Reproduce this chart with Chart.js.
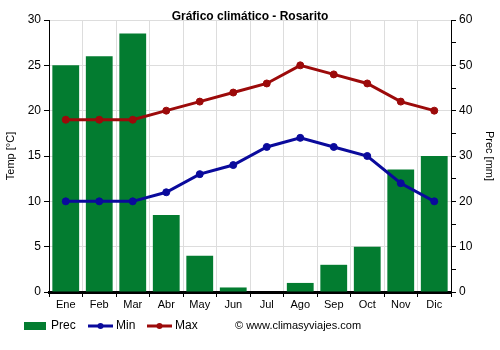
<!DOCTYPE html>
<html>
<head>
<meta charset="utf-8">
<script src="https://cdn.jsdelivr.net/npm/chart.js@4"></script>
<style>
  html, body { margin: 0; padding: 0; background: #fff; }
  #wrap { width: 500px; height: 350px; }
</style>
</head>
<body>
<div id="wrap"><canvas id="myChart" width="500" height="350"></canvas></div>
<script>
const months = ['Ene', 'Feb', 'Mar', 'Abr', 'May', 'Jun', 'Jul', 'Ago', 'Sep', 'Oct', 'Nov', 'Dic'];
const prec = [50, 52, 57, 17, 8, 1, 0, 2, 6, 10, 27, 30];
const tempMin = [10, 10, 10, 11, 13, 14, 16, 17, 16, 15, 12, 10];
const tempMax = [19, 19, 19, 20, 21, 22, 23, 25, 24, 23, 21, 20];

const font = 'Liberation Sans, Arial, sans-serif';
const green = '#037c30';
const blue = '#0a0a9c';
const red = '#9c0a0a';

// title, legend row and copyright drawn by hand
const decorations = {
    id: 'decorations',
    afterDraw(chart){
        const ctx = chart.ctx;
        ctx.save();
        ctx.fillStyle = '#000';
        ctx.textBaseline = 'middle';

        ctx.font = 'bold 12px ' + font;
        ctx.textAlign = 'center';
        ctx.fillText('Gráfico climático - Rosarito', 250, 17);

        ctx.font = '12px ' + font;
        ctx.textAlign = 'left';
        const y = 326;

        ctx.fillStyle = green;
        ctx.fillRect(24, y - 4, 22, 8);
        ctx.fillStyle = '#000';
        ctx.fillText('Prec', 51, y);

        [[88, blue, 'Min'], [147, red, 'Max']].forEach(([x, c, t]) => {
            ctx.strokeStyle = c;
            ctx.fillStyle = c;
            ctx.lineWidth = 3;
            ctx.beginPath();
            ctx.moveTo(x, y);
            ctx.lineTo(x + 25, y);
            ctx.stroke();
            ctx.beginPath();
            ctx.arc(x + 12.5, y, 3, 0, Math.PI * 2);
            ctx.fill();
            ctx.fillStyle = '#000';
            ctx.fillText(t, x + 28, y);
        });

        ctx.font = '11px ' + font;
        ctx.fillText('\u00a9 www.climasyviajes.com', 235, y);
        ctx.restore();
    }
};

const data = {
    labels: months,
    datasets: [
        {
            type: 'bar',
            label: 'Prec',
            data: prec,
            yAxisID: 'yPrec',
            backgroundColor: green,
            barPercentage: 0.8,
            categoryPercentage: 1.0,
            order: 2
        },
        {
            type: 'line',
            label: 'Min',
            data: tempMin,
            yAxisID: 'yTemp',
            borderColor: blue,
            backgroundColor: blue,
            borderWidth: 3,
            pointRadius: 3.5,
            pointBorderWidth: 1,
            pointHoverRadius: 3.5,
            order: 1
        },
        {
            type: 'line',
            label: 'Max',
            data: tempMax,
            yAxisID: 'yTemp',
            borderColor: red,
            backgroundColor: red,
            borderWidth: 3,
            pointRadius: 3.5,
            pointBorderWidth: 1,
            pointHoverRadius: 3.5,
            order: 0
        }
    ]
};

const config = {
    data,
    options: {
        responsive: false,
        animation: false,
        layout: { padding: { left: 0, right: 0, top: 20, bottom: 0 } },
        plugins: {
            title: { display: false },
            legend: { display: false },
            tooltip: { enabled: false }
        },
        scales: {
            x: {
                offset: true,
                grid: { color: '#dddddd', offset: true, tickLength: 5, tickColor: '#000' },
                border: { color: '#000', width: 3 },
                ticks: { color: '#000', font: { family: font, size: 11 }, padding: 1 },
                afterFit(scale){ scale.height = 58; }
            },
            yTemp: {
                position: 'left',
                min: 0,
                max: 30,
                ticks: { stepSize: 5, color: '#000', font: { family: font, size: 12 }, padding: 3 },
                grid: { color: '#dddddd', tickColor: '#000', tickLength: 5 },
                border: { color: '#000', width: 1 },
                title: { display: true, text: 'Temp [°C]', color: '#000', font: { family: font, size: 11 }, padding: { top: 4, bottom: 2 } },
                afterFit(scale){ scale.width = 49; }
            },
            yPrec: {
                position: 'right',
                min: 0,
                max: 60,
                ticks: {
                    stepSize: 5,
                    autoSkip: false,
                    color: '#000',
                    font: { family: font, size: 12 },
                    padding: 3,
                    callback: v => (v % 10 === 0 ? v : '')
                },
                grid: { drawOnChartArea: false, tickColor: '#000', tickLength: 5 },
                border: { color: '#000', width: 1 },
                title: { display: true, text: 'Prec [mm]', color: '#000', font: { family: font, size: 11 }, padding: { top: 4, bottom: 2 } },
                afterFit(scale){ scale.width = 49; }
            }
        }
    },
    plugins: [decorations]
};

var myChart = new Chart(document.getElementById('myChart'), config);
</script>
</body>
</html>
